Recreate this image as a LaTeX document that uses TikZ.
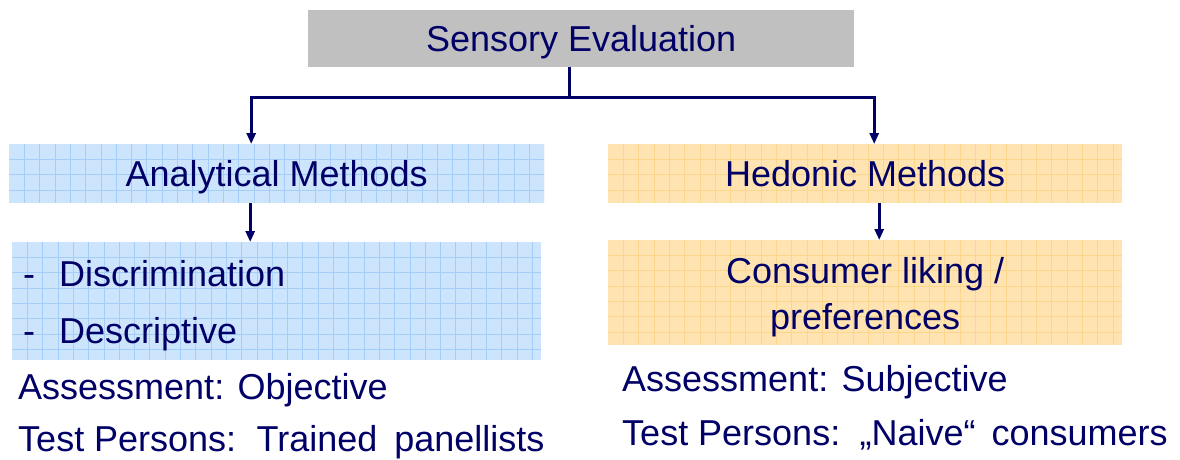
\documentclass[tikz,border=0pt]{standalone}
\usepackage{fontspec}
\setmainfont{Liberation Sans}
\usetikzlibrary{arrows.meta}
\definecolor{navy}{RGB}{0,0,102}
\definecolor{headgray}{RGB}{192,192,192}
\definecolor{bluefill}{RGB}{204,228,252}
\definecolor{blueline}{RGB}{164,206,248}
\definecolor{orangefill}{RGB}{255,228,178}
\definecolor{orangeline}{RGB}{252,214,140}
\tikzset{
  txt/.style={text=navy, font=\fontsize{36}{44}\selectfont},
  box/.style={txt, rectangle, inner sep=0pt, anchor=north west},
  onerow/.style={text height=25.8pt, text depth=0pt},
  gridded/.style 2 args={fill=#1, path picture={
      \foreach \i in {1,...,36}
        \draw[#2, line width=1pt]
          ([xshift=\i*15.3pt]path picture bounding box.south west) --
          ([xshift=\i*15.3pt]path picture bounding box.north west);
      \foreach \i in {1,...,8}
        \draw[#2, line width=1pt]
          ([yshift=-\i*15.3pt]path picture bounding box.north west) --
          ([yshift=-\i*15.3pt]path picture bounding box.north east);}},
  bluebox/.style={box, gridded={bluefill}{blueline}},
  orangebox/.style={box, gridded={orangefill}{orangeline}},
  conn/.style={draw=navy, line width=3pt},
  arr/.style={conn, -{Triangle[length=11pt,width=9pt]}},
  note/.style={txt, anchor=base west, inner sep=0pt},
}
\begin{document}
\begin{tikzpicture}[x=1pt,y=-1pt]
\useasboundingbox (0,0) rectangle (1180,459);

% top heading
\node[box, onerow, fill=headgray, minimum width=546pt, minimum height=57pt] (se) at (308,10) {Sensory Evaluation};

% two method branches
\node[bluebox, onerow, minimum width=535pt, minimum height=59pt] (am) at (9,144) {Analytical Methods};
\node[orangebox, onerow, minimum width=514pt, minimum height=59pt] (hm) at (608,144) {Hedonic Methods};

% method details
\node[bluebox, minimum width=529pt, minimum height=118pt] (lb) at (12,242) {};
\node[txt, text width=505pt, align=left, inner sep=0pt, yshift=-4pt,
      font=\fontsize{36}{57}\selectfont] (lbt) at (lb.center)
  {\hspace*{-1pt}\makebox[36pt][l]{-}Discrimination\\\hspace*{-1pt}\makebox[36pt][l]{-}Descriptive};
\node[orangebox, minimum width=514pt, minimum height=105pt] (cl) at (608,240) {};
\node[txt, align=center, inner sep=0pt, yshift=-4pt,
      font=\fontsize{36}{46}\selectfont] (clt) at (cl.center)
  {Consumer liking /\\preferences};

% characteristics
\node[note] (ao) at (18,399) {Assessment: Objective};
\node[note] (to) at (18,451) {Test Persons:\hspace{7pt} Trained\hspace{7pt} panellists};
\node[note] (as) at (622,391) {Assessment: Subjective};
\node[note] (ts) at (622,445) {Test Persons:\hspace{6pt} „Naive“\hspace{6pt} consumers};

% connectors
\coordinate (j) at (569,97);
\draw[conn] (se.south -| j) -- (j);
\draw[arr] ([xshift=1.5pt]j) -| ([xshift=-25.5pt]am.north);
\draw[arr] ([xshift=-1.5pt]j) -| ([xshift=9pt]hm.north);
\draw[arr] ([xshift=-26.5pt]am.south) -- ([xshift=-26.5pt]am.south |- lb.north);
\draw[arr] ([xshift=14pt]hm.south) -- ([xshift=14pt]hm.south |- cl.north);
\end{tikzpicture}
\end{document}
